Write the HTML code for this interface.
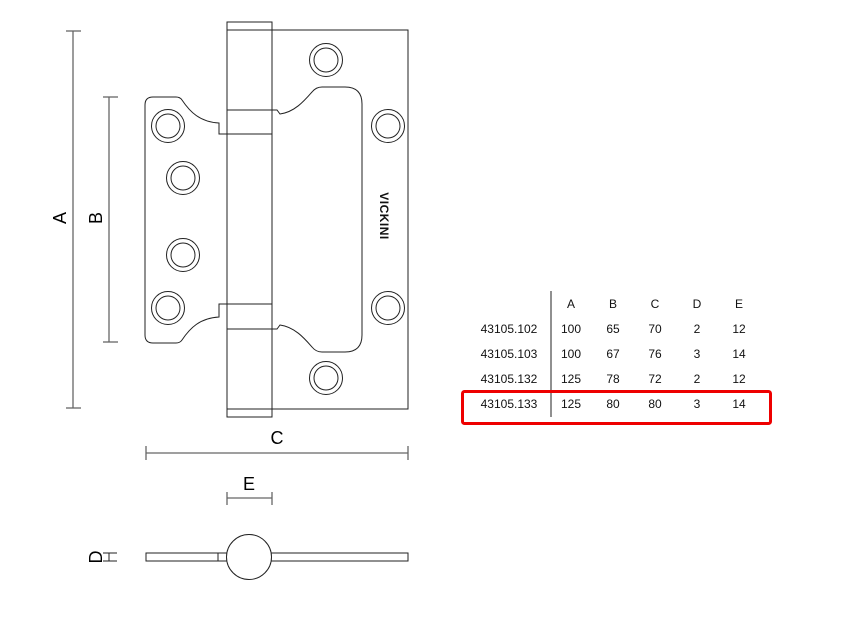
<!DOCTYPE html>
<html><head><style>html,body{margin:0;padding:0;background:#fff}</style></head><body>
<svg width="854" height="620" viewBox="0 0 854 620" xmlns="http://www.w3.org/2000/svg" font-family="Liberation Sans, sans-serif">
<g stroke="#666" stroke-width="1.3" fill="none">
<line x1="73" y1="31" x2="73" y2="408"/><line x1="66" y1="31" x2="81" y2="31"/><line x1="66" y1="408" x2="81" y2="408"/>
<line x1="109" y1="97" x2="109" y2="342"/><line x1="103" y1="97" x2="118" y2="97"/><line x1="103" y1="342" x2="118" y2="342"/>
<line x1="146" y1="453" x2="408" y2="453"/><line x1="146" y1="446" x2="146" y2="460"/><line x1="408" y1="446" x2="408" y2="460"/>
<line x1="227" y1="498" x2="272" y2="498"/><line x1="227" y1="492" x2="227" y2="505"/><line x1="272" y1="492" x2="272" y2="505"/>
</g>
<g font-size="18" fill="#000" text-anchor="middle">
<text transform="translate(66,218) rotate(-90)">A</text>
<text transform="translate(102,218) rotate(-90)">B</text>
<text x="277" y="444">C</text>
<text x="249" y="490">E</text>
<text transform="translate(102,557) rotate(-90)">D</text>
</g>
<g stroke="#222" stroke-width="1" fill="none">
<!-- right leaf -->
<path d="M272 30 H408 V409 H272"/>
<!-- pin -->
<rect x="227" y="22" width="45" height="395"/>
<line x1="227" y1="30" x2="272" y2="30"/><line x1="227" y1="409" x2="272" y2="409"/>
<!-- left leaf -->
<path d="M227 134 H219 V123 C200 122 190 112 182 100 Q180 97 176 97 H153 Q145 97 145 105 V335 Q145 343 153 343 H176 Q180 343 182 340 C190 328 200 318 219 317 V304 H227"/>
<line x1="227" y1="110" x2="272" y2="110"/>
<line x1="219" y1="134" x2="272" y2="134"/>
<line x1="219" y1="304" x2="272" y2="304"/>
<line x1="227" y1="329" x2="272" y2="329"/>
<!-- right cutout -->
<path d="M272 110 H277 L280 114 C295 112 305 100 312 92 Q316 87 322 87 H345 Q362 87 362 104 V335 Q362 352 345 352 H322 Q316 352 312 347 C305 339 295 327 280 325 L277 329 H272"/>
<!-- bottom view -->
<rect x="146" y="553" width="262" height="8"/>
<line x1="218" y1="553" x2="218" y2="561"/>
<circle cx="249" cy="557" r="22.5" fill="#fff"/>
<line x1="103" y1="553" x2="117" y2="553"/><line x1="103" y1="561" x2="117" y2="561"/><line x1="109" y1="553" x2="109" y2="561"/>
</g>
<g stroke="#222" stroke-width="1" fill="none">
<circle cx="168" cy="126" r="16.5"/><circle cx="168" cy="126" r="12"/>
<circle cx="183" cy="178" r="16.5"/><circle cx="183" cy="178" r="12"/>
<circle cx="183" cy="255" r="16.5"/><circle cx="183" cy="255" r="12"/>
<circle cx="168" cy="308" r="16.5"/><circle cx="168" cy="308" r="12"/>
<circle cx="326" cy="60" r="16.5"/><circle cx="326" cy="60" r="12"/>
<circle cx="388" cy="126" r="16.5"/><circle cx="388" cy="126" r="12"/>
<circle cx="388" cy="308" r="16.5"/><circle cx="388" cy="308" r="12"/>
<circle cx="326" cy="378" r="16.5"/><circle cx="326" cy="378" r="12"/>
</g>
<text transform="translate(380,216) rotate(90)" font-size="12" font-weight="bold" text-anchor="middle" fill="#111" letter-spacing="0.5">VICKINI</text>
<line x1="551" y1="291" x2="551" y2="417" stroke="#555" stroke-width="1.3"/>
<g font-size="12" fill="#111" text-anchor="middle">
<text x="571" y="308">A</text><text x="613" y="308">B</text><text x="655" y="308">C</text><text x="697" y="308">D</text><text x="739" y="308">E</text>
<text x="509" y="333">43105.102</text><text x="571" y="333">100</text><text x="613" y="333">65</text><text x="655" y="333">70</text><text x="697" y="333">2</text><text x="739" y="333">12</text>
<text x="509" y="358">43105.103</text><text x="571" y="358">100</text><text x="613" y="358">67</text><text x="655" y="358">76</text><text x="697" y="358">3</text><text x="739" y="358">14</text>
<text x="509" y="383">43105.132</text><text x="571" y="383">125</text><text x="613" y="383">78</text><text x="655" y="383">72</text><text x="697" y="383">2</text><text x="739" y="383">12</text>
<text x="509" y="408">43105.133</text><text x="571" y="408">125</text><text x="613" y="408">80</text><text x="655" y="408">80</text><text x="697" y="408">3</text><text x="739" y="408">14</text>
</g>
<rect x="462.5" y="391.5" width="308" height="32" rx="2" fill="none" stroke="#e00" stroke-width="3"/>
</svg>
</body></html>
